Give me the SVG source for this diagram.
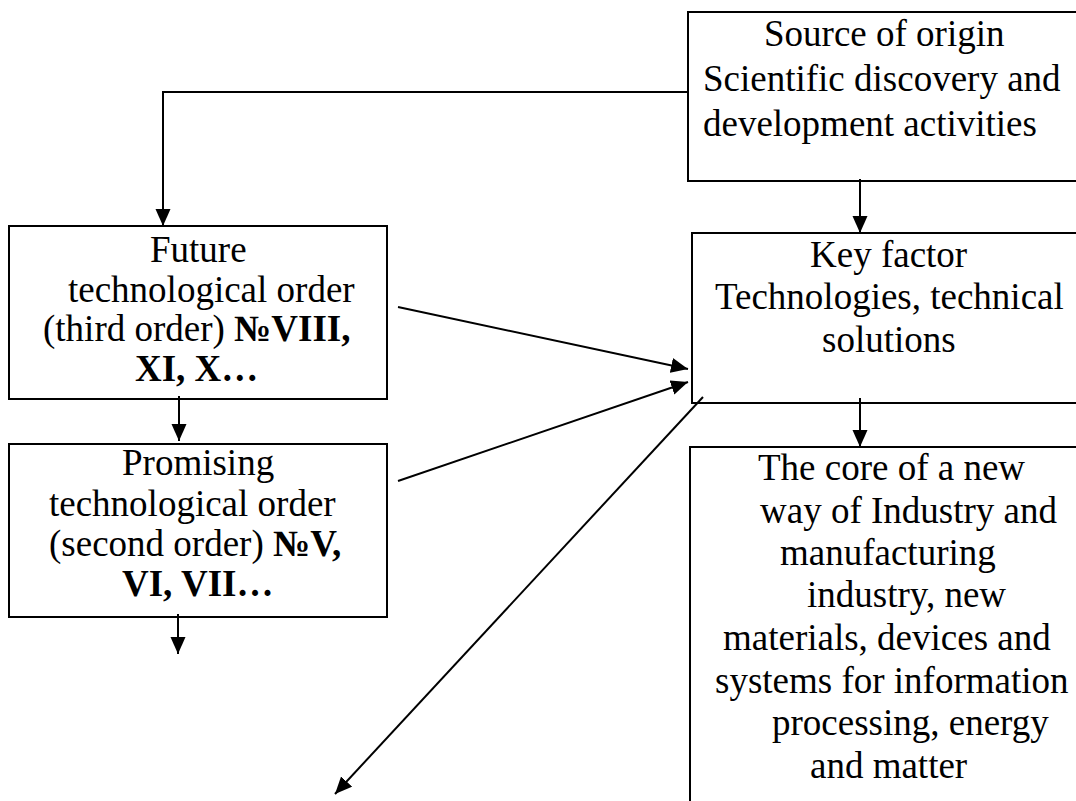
<svg xmlns="http://www.w3.org/2000/svg" width="1076" height="801" viewBox="0 0 1076 801">
<style>
.box{fill:#fff;stroke:#000;stroke-width:2}
.t{font-family:"Liberation Serif","Times New Roman",serif;font-size:37px;fill:#000}
.b{font-weight:bold}
.c{fill:none;stroke:#000;stroke-width:2}
</style>
<defs>
<marker id="ah" markerUnits="userSpaceOnUse" markerWidth="18" markerHeight="16" refX="17" refY="7.5" orient="auto">
<path d="M0,0 L17,7.5 L0,15 z" fill="#000"/>
</marker>
</defs>
<rect width="1076" height="801" fill="#fff"/>
<g id="source">
<rect class="box" x="688" y="12" width="420" height="169"/>
<text class="t" x="764" y="46">Source of origin</text>
<text class="t" x="703" y="91">Scientific discovery and</text>
<text class="t" x="703" y="136">development activities</text>
</g>
<g id="future">
<rect class="box" x="9" y="226" width="378" height="173"/>
<text class="t" x="150" y="262">Future</text>
<text class="t" x="68" y="302">technological order</text>
<text class="t" x="43" y="341">(third order) <tspan class="b">№VIII,</tspan></text>
<text class="t b" x="135" y="381">XI, X…</text>
</g>
<g id="promising">
<rect class="box" x="9" y="444" width="378" height="173"/>
<text class="t" x="122" y="475">Promising</text>
<text class="t" x="49" y="516">technological order</text>
<text class="t" x="49" y="556">(second order) <tspan class="b">№V,</tspan></text>
<text class="t b" x="122" y="596">VI, VII…</text>
</g>
<g id="key">
<rect class="box" x="692" y="233" width="420" height="170"/>
<text class="t" x="810" y="267">Key factor</text>
<text class="t" x="715" y="309">Technologies, technical</text>
<text class="t" x="822" y="352">solutions</text>
</g>
<g id="core">
<rect class="box" x="690" y="447" width="420" height="400"/>
<text class="t" x="758" y="480">The core of a new</text>
<text class="t" x="760" y="523">way of Industry and</text>
<text class="t" x="780" y="565">manufacturing</text>
<text class="t" x="807" y="607">industry, new</text>
<text class="t" x="723" y="650">materials, devices and</text>
<text class="t" x="715" y="693">systems for information</text>
<text class="t" x="772" y="735">processing, energy</text>
<text class="t" x="810" y="778">and matter</text>
</g>
<g id="connectors">
<polyline class="c" points="688,92 163,92 163,226" marker-end="url(#ah)"/>
<line class="c" x1="860" y1="179" x2="860" y2="233" marker-end="url(#ah)"/>
<line class="c" x1="860" y1="398" x2="860" y2="447" marker-end="url(#ah)"/>
<line class="c" x1="179" y1="396" x2="179" y2="441" marker-end="url(#ah)"/>
<line class="c" x1="178" y1="614" x2="178" y2="654" marker-end="url(#ah)"/>
<line class="c" x1="398" y1="307" x2="688" y2="369" marker-end="url(#ah)"/>
<line class="c" x1="398" y1="481" x2="688" y2="382" marker-end="url(#ah)"/>
<line class="c" x1="703" y1="397" x2="335" y2="794" marker-end="url(#ah)"/>
</g>
</svg>
